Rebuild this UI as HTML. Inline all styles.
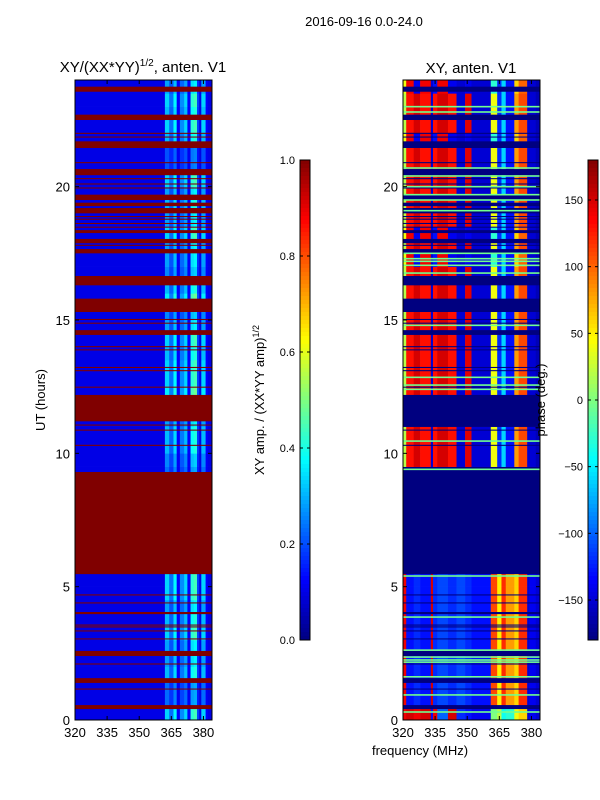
<!DOCTYPE html>
<html><head><meta charset="utf-8"><style>
body{margin:0;background:#fff;}
svg{display:block;font-family:"Liberation Sans",sans-serif;}
</style></head><body>
<svg id="fig" width="600" height="800" xmlns="http://www.w3.org/2000/svg">
<rect width="600" height="800" fill="#fff"/>
<text x="364" y="26" font-size="13" text-anchor="middle">2016-09-16 0.0-24.0</text>
<text x="143" y="72" font-size="15" text-anchor="middle">XY/(XX*YY)<tspan font-size="10" dy="-6">1/2</tspan><tspan dy="6">, anten. V1</tspan></text>
<text x="471" y="73" font-size="15" text-anchor="middle">XY, anten. V1</text>
<text transform="translate(45,400) rotate(-90)" font-size="13" text-anchor="middle">UT (hours)</text>
<text transform="translate(264,400) rotate(-90)" font-size="13" text-anchor="middle">XY amp. / (XX*YY amp)<tspan font-size="9" dy="-5">1/2</tspan></text>
<text x="420" y="755" font-size="13" text-anchor="middle">frequency (MHz)</text>
<g id="left"></g>
<g id="right"></g>
<text transform="translate(545,400) rotate(-90)" font-size="13" text-anchor="middle">phase (deg.)</text>
<g id="cb1"></g>
<g id="cb2"></g>
<g id="axes"></g>
</svg>
<script>
// ---- data ----
const hourTicks=[0,5,10,15,20];
const freqTicks=[320,335,350,365,380];
const ampTicks=[0.0,0.2,0.4,0.6,0.8,1.0];
const phaseTicks=[150,100,50,0,-50,-100,-150];
const ampBinEdges=[320,362,364,366,367.5,369,371,372.5,374,375.5,377,378,379,381,382,384];
const ampColPeak=[0.1,0.36,0.25,0.4,0.13,0.28,0.36,0.13,0.45,0.48,0.2,0.1,0.36,0.13,0.1];
const rowActivity=[0.9,0.5,0.5,0.8,0.7,0.7,0.9,0.8,0.7,0.9,0.9,0.5,0.5,0.5,0.5,0.5,0.5,0.5,0.5,0.6,0.8,0.8,0.7,0.5,1.0,0.9,0.9,0.8,0.9,0.7,0.6,1.0,0.8,0.6,0.7,0.7,0.9,0.7,0.8,0.7,0.9,0.4,0.4,0.8,0.9,0.8,0.9,0.7];
const flagBands=[[23.56,23.75],[22.5,22.7],[21.98,22.02],[21.84,21.88],[21.45,21.7],[20.88,20.92],[20.43,20.66],[20.28,20.32],[20.08,20.12],[19.93,19.97],[19.5,19.7],[19.27,19.4],[19.0,19.2],[18.86,18.9],[18.76,18.8],[18.6,18.64],[18.46,18.5],[18.26,18.37],[17.88,18.04],[17.78,17.82],[17.5,17.66],[16.3,16.65],[15.3,15.8],[15.0,15.04],[14.86,14.9],[14.44,14.62],[13.98,14.02],[13.86,13.9],[13.2,13.24],[13.08,13.12],[12.46,12.5],[11.2,12.19],[11.04,11.08],[10.85,10.89],[10.28,10.32],[5.47,9.3],[4.67,4.71],[4.37,4.41],[3.97,4.05],[3.54,3.58],[3.47,3.51],[3.32,3.36],[3.02,3.06],[2.4,2.59],[2.08,2.12],[1.39,1.57],[1.14,1.18],[0.41,0.56]];
const phaseBinEdges=[320,321.5,325,328,333,334,336,341,345,349,352,361,364,366,368,372,374,378,379,382,384];
const phaseMode=[3,2,2,2,2,2,2,2,2,2,2,0,0,0,0,0,0,0,0,1,1,1,0,0,1,1,1,1,1,1,1,1,1,1,4,1,4,1,1,1,1,1,1,4,1,1,1,4];
const phaseUpper=[20,130,150,130,-150,130,150,130,-150,145,-150,40,-120,-60,-130,80,110,-150,-150,-160];
const phaseLower=[140,-130,-120,-130,150,-120,-110,-120,-110,-120,-130,110,50,120,80,60,120,-150,-140,-150];
const phaseBottom=[140,150,140,150,-130,140,-100,150,-120,-130,-140,0,20,-40,-30,40,60,-150,-140,-150];
const phaseMixed=[40,140,-140,140,-150,-130,140,-140,-150,-140,-150,-30,-120,-60,-130,60,100,-150,-150,-160];
const greenLines=[23.0,22.8,20.7,20.4,20.0,19.7,19.5,19.1,17.5,17.3,17.2,17.05,16.76,14.8,12.85,12.56,12.4,10.46,9.4,5.4,3.86,2.62,2.36,2.25,2.17,1.62,0.94,0.3];

// ---- scales ----
const NS="http://www.w3.org/2000/svg";
const L={x0:75,x1:212}, R={x0:403,x1:540}, Y0=720, Y1=80;
function xs(ax,f){return ax.x0+(f-320)/64*(ax.x1-ax.x0);}
function ys(h){return Y0-(h/24)*(Y0-Y1);}
function jet(v){v=Math.max(0,Math.min(1,v));
 const c=t=>Math.round(255*Math.max(0,Math.min(1,1.5-Math.abs(4*v-t))));
 return `rgb(${c(3)},${c(2)},${c(1)})`;}
function pc(d){return jet((d+180)/360);}
function rect(g,x,y,w,h,fill,name){const r=document.createElementNS(NS,'rect');
 r.setAttribute('x',x);r.setAttribute('y',y);r.setAttribute('width',w);r.setAttribute('height',h);r.setAttribute('fill',fill);
 
 
 g.appendChild(r);return r;}
function txt(g,x,y,s,anchor,size,name){const t=document.createElementNS(NS,'text');
 t.setAttribute('x',x);t.setAttribute('y',y);t.setAttribute('text-anchor',anchor);t.setAttribute('font-size',size);t.textContent=s;
 
 
 g.appendChild(t);}
function line(g,x1,y1,x2,y2,name,col,w){const l=document.createElementNS(NS,'line');
 l.setAttribute('x1',x1);l.setAttribute('y1',y1);l.setAttribute('x2',x2);l.setAttribute('y2',y2);
 l.setAttribute('stroke',col||'#000');l.setAttribute('stroke-width',w||1);
 
 
 g.appendChild(l);}

// ---- left heatmap ----
const gl=document.getElementById('left');
rowActivity.forEach((a,i)=>{
 const y=ys((i+1)*0.5), h=ys(i*0.5)-y;
 for(let j=0;j<ampColPeak.length;j++){
  const v=0.1+(ampColPeak[j]-0.1)*a;
  const x=xs(L,ampBinEdges[j]); rect(gl,x,y,xs(L,ampBinEdges[j+1])-x+0.3,h+0.3,jet(v),'amp-cell');
 }});
flagBands.forEach(b=>{const y=ys(b[1]);rect(gl,L.x0,y,L.x1-L.x0,Math.max(1,ys(b[0])-y),'#800000','amp-flag-band');});

// ---- right heatmap ----
const gr=document.getElementById('right');
const modes=[null,phaseUpper,phaseLower,phaseBottom,phaseMixed];
phaseMode.forEach((m,i)=>{
 const y=ys((i+1)*0.5), h=ys(i*0.5)-y;
 if(m===0){rect(gr,R.x0,y,R.x1-R.x0,h+0.3,'#000080','phase-flag-row');return;}
 const vals=modes[m];
 for(let j=0;j<vals.length;j++){const x=xs(R,phaseBinEdges[j]);
  rect(gr,x,y,xs(R,phaseBinEdges[j+1])-x+0.3,h+0.3,pc(vals[j]),'phase-cell');}
});
flagBands.forEach(b=>{const y=ys(b[1]);rect(gr,R.x0,y,R.x1-R.x0,Math.max(1,ys(b[0])-y),'#000080','phase-flag-band');});
greenLines.forEach(h=>{rect(gr,R.x0,ys(h)-0.8,R.x1-R.x0,1.6,pc(-5),'phase-green-line');});

// ---- axes ----
const ga=document.getElementById('axes');
[L,R].forEach((ax,k)=>{
 const fr=document.createElementNS(NS,'rect');
 fr.setAttribute('x',ax.x0);fr.setAttribute('y',Y1);fr.setAttribute('width',ax.x1-ax.x0);fr.setAttribute('height',Y0-Y1);
 fr.setAttribute('fill','none');fr.setAttribute('stroke','#000');
 
 
 ga.appendChild(fr);
 hourTicks.forEach(h=>{const y=ys(h);line(ga,ax.x0,y,ax.x0+4,y,'y-tick');line(ga,ax.x1,y,ax.x1-4,y,'y-tick');
  txt(ga,ax.x0-5,y+5,String(h),'end',13,'y-tick-label');});
 freqTicks.forEach(f=>{const x=xs(ax,f);line(ga,x,Y0,x,Y0-4,'x-tick');line(ga,x,Y1,x,Y1+4,'x-tick');
  txt(ga,x,Y0+17,String(f),'middle',13,'x-tick-label');});
});

// ---- colorbars ----
function cbar(g,x,cfun,ticks,tmap,fmt,nm){
 for(let i=0;i<120;i++){rect(g,x,160+i*4,10,4.3,cfun(1-(i+0.5)/120),nm+'-segment');}
 const fr=document.createElementNS(NS,'rect');
 fr.setAttribute('x',x);fr.setAttribute('y',160);fr.setAttribute('width',10);fr.setAttribute('height',480);
 fr.setAttribute('fill','none');fr.setAttribute('stroke','#000');
 
 
 g.appendChild(fr);
 ticks.forEach(t=>{const y=160+480*(1-tmap(t));line(g,x,y,x+3,y,nm+'-tick');line(g,x+10,y,x+7,y,nm+'-tick');
  txt(g,x-5,y+4,fmt(t),'end',11,nm+'-tick-label');});
}
cbar(document.getElementById('cb1'),300,jet,ampTicks,t=>t,t=>t.toFixed(1),'amp-colorbar');
cbar(document.getElementById('cb2'),588,jet,phaseTicks,t=>(t+180)/360,t=>(t<0?'\u2212'+(-t):String(t)),'phase-colorbar');
</script>
</body></html>
